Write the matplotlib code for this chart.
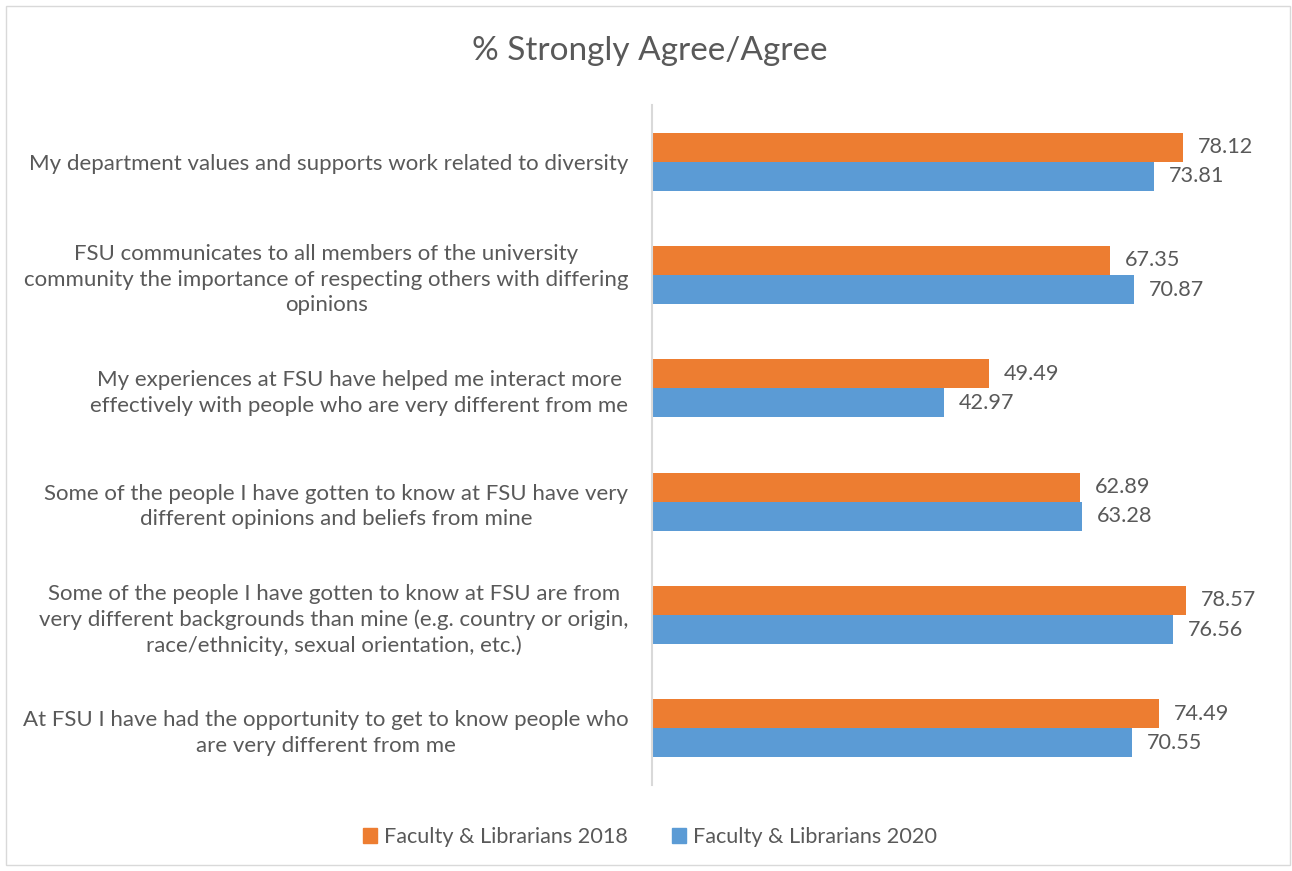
import matplotlib.pyplot as plt
import matplotlib.patches as mpatches
import numpy as np

plt.rcParams['font.family'] = ['Lato', 'DejaVu Sans']

# categories listed top to bottom
categories = [
    "My department values and supports work related to diversity",
    "FSU communicates to all members of the university\ncommunity the importance of respecting others with differing\nopinions",
    "My experiences at FSU have helped me interact more\neffectively with people who are very different from me",
    "Some of the people I have gotten to know at FSU have very\ndifferent opinions and beliefs from mine",
    "Some of the people I have gotten to know at FSU are from\nvery different backgrounds than mine (e.g. country or origin,\nrace/ethnicity, sexual orientation, etc.)",
    "At FSU I have had the opportunity to get to know people who\nare very different from me",
]
vals_2018 = [78.12, 67.35, 49.49, 62.89, 78.57, 74.49]
vals_2020 = [73.81, 70.87, 42.97, 63.28, 76.56, 70.55]
series_names = ["Faculty & Librarians 2018", "Faculty & Librarians 2020"]

c_2018 = "#ED7D31"
c_2020 = "#5B9BD5"
txt = "#595959"

fig = plt.figure(figsize=(12.92, 8.71), dpi=100)
ax = fig.add_axes([652 / 1292, 1 - 785 / 871, (1264 - 652) / 1292, 680 / 871])

n = len(categories)
y = np.arange(n)
h = 0.256
ax.barh(y - h / 2, vals_2018, height=h, color=c_2018)
ax.barh(y + h / 2, vals_2020, height=h, color=c_2020)

for i in range(n):
    ax.text(vals_2018[i] + 2.2, y[i] - h / 2, f"{vals_2018[i]:.2f}", va="center",
            ha="left", fontsize=15.6, color=txt)
    ax.text(vals_2020[i] + 2.2, y[i] + h / 2, f"{vals_2020[i]:.2f}", va="center",
            ha="left", fontsize=15.6, color=txt)

ax.set_xlim(0, 90)
ax.set_ylim(n - 0.5, -0.5)
ax.set_yticks(y)
ax.set_yticklabels(categories, fontsize=16, color=txt, ha="right",
                   multialignment="center", linespacing=1.33)
ax.tick_params(axis="y", length=0, pad=17)
ax.set_xticks([])
for s in ["top", "right", "bottom"]:
    ax.spines[s].set_visible(False)
ax.spines["left"].set_color("#D9D9D9")
ax.spines["left"].set_linewidth(1.5)

fig.text(650 / 1292, 1 - 51 / 871, "% Strongly Agree/Agree", ha="center", va="center",
         fontsize=24, color=txt)

handles = [mpatches.Patch(color=c_2018, label=series_names[0]),
           mpatches.Patch(color=c_2020, label=series_names[1])]
fig.legend(handles=handles, loc="center", bbox_to_anchor=(650 / 1292, 1 - 837 / 871),
           ncol=2, frameon=False, fontsize=15.6, labelcolor=txt, handlelength=0.65,
           handleheight=0.65, handletextpad=0.35, columnspacing=2.0)

# outer frame
fig.add_artist(mpatches.Rectangle((6 / 1292, 6 / 871), 1284 / 1292, 859 / 871,
                                  transform=fig.transFigure, fill=False,
                                  edgecolor="#D9D9D9", linewidth=1))

fig.savefig("out.png", dpi=100)
